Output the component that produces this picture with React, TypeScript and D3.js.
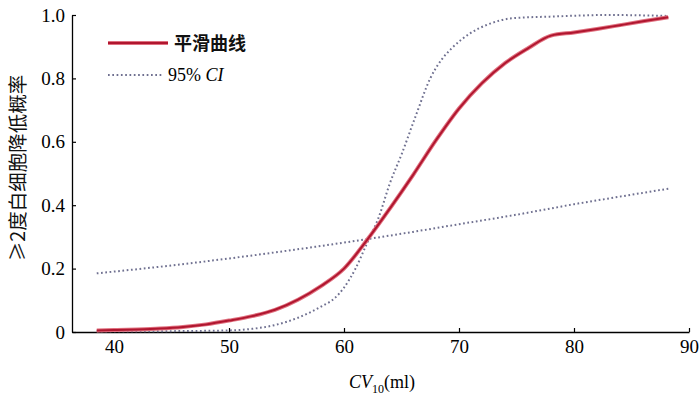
import { useEffect, useRef } from "react";
import * as d3 from "d3";

// smoothed curve (x = CV10 ml, y = probability)
const smoothX = [38.5, 40, 42, 44, 46, 48, 50, 52, 54, 56, 58, 60, 62, 64, 66, 68, 70, 72, 74, 76, 78, 80, 82, 84, 86, 88.2];
const smoothY = [0.005, 0.006, 0.008, 0.011, 0.016, 0.024, 0.036, 0.05, 0.07, 0.102, 0.145, 0.2, 0.29, 0.39, 0.495, 0.605, 0.705, 0.785, 0.848, 0.895, 0.935, 0.945, 0.956, 0.968, 0.98, 0.993];

// upper 95% CI
const upperX = [38.5, 42, 46, 50, 52, 54, 56, 58, 59.2, 60, 61, 62, 63, 64, 65, 66.2, 67.5, 68.5, 69.4, 71, 72.5, 74.7, 78, 83, 88.2];
const upperY = [0.002, 0.002, 0.003, 0.005, 0.01, 0.022, 0.045, 0.08, 0.107, 0.14, 0.2, 0.28, 0.36, 0.47, 0.56, 0.678, 0.8, 0.86, 0.896, 0.943, 0.97, 0.99, 0.995, 1.0, 0.997];

// lower 95% CI
const lowerX = [38.5, 45, 50, 55, 60, 65, 70, 75, 80, 85, 88.2];
const lowerY = [0.185, 0.21, 0.232, 0.256, 0.282, 0.31, 0.34, 0.37, 0.403, 0.433, 0.452];

const xTicks = [40, 50, 60, 70, 80, 90];
const yTicks = [0, 0.2, 0.4, 0.6, 0.8, 1.0];

const W = 700;
const H = 395;
const SERIF = "'Liberation Serif', 'Times New Roman', serif";
const CJK = "'Noto Sans CJK SC', sans-serif";

export default function App() {
  const svgRef = useRef<SVGSVGElement>(null);

  useEffect(() => {
    if (!svgRef.current) return;
    const svg = d3.select(svgRef.current);
    svg.selectAll("*").remove();

    const x = d3.scaleLinear().domain([40, 90]).range([114, 689]);
    const y = d3.scaleLinear().domain([0, 1]).range([332, 15]);
    const x0 = x.invert(72);

    const line = d3
      .line<[number, number]>()
      .x((d) => x(d[0]))
      .y((d) => y(d[1]))
      .curve(d3.curveMonotoneX);

    const zip = (a: number[], b: number[]) => a.map((v, i) => [v, b[i]] as [number, number]);

    // axes
    const xAxis = svg
      .append("g")
      .attr("transform", `translate(0,${y(0)})`)
      .call(
        d3
          .axisBottom(d3.scaleLinear().domain([x0, 90]).range([72, 689]))
          .tickValues(xTicks)
          .tickSizeInner(-4)
          .tickSizeOuter(0)
          .tickPadding(8)
          .tickFormat((d) => String(d))
      );
    xAxis.select(".domain").attr("stroke", "#000").attr("stroke-width", 1.3);
    xAxis.selectAll(".tick line").attr("stroke", "#000").attr("stroke-width", 1.2);
    xAxis
      .selectAll("text")
      .attr("font-family", SERIF)
      .attr("font-size", 19)
      .attr("fill", "#000");

    const yAxis = svg
      .append("g")
      .attr("transform", `translate(72,0)`)
      .call(
        d3
          .axisLeft(y)
          .tickValues(yTicks)
          .tickSizeInner(-4)
          .tickSizeOuter(0)
          .tickPadding(7)
          .tickFormat((d) => ((d as number) === 0 ? "0" : d3.format(".1f")(d as number)))
      );
    yAxis.select(".domain").attr("stroke", "#000").attr("stroke-width", 1.3);
    yAxis.selectAll(".tick line").attr("stroke", "#000").attr("stroke-width", 1.2);
    yAxis
      .selectAll("text")
      .attr("font-family", SERIF)
      .attr("font-size", 19)
      .attr("fill", "#000");

    // CI lines
    [zip(upperX, upperY), zip(lowerX, lowerY)].forEach((pts) => {
      svg
        .append("path")
        .attr("d", line(pts))
        .attr("fill", "none")
        .attr("stroke", "#6f7090")
        .attr("stroke-width", 2)
        .attr("stroke-dasharray", "1.7 2.6");
    });

    // smoothed curve
    svg
      .append("path")
      .attr("d", line(zip(smoothX, smoothY)))
      .attr("fill", "none")
      .attr("stroke", "#e0707f")
      .attr("stroke-width", 4);
    svg
      .append("path")
      .attr("d", line(zip(smoothX, smoothY)))
      .attr("fill", "none")
      .attr("stroke", "#b0162f")
      .attr("stroke-width", 2);

    // legend
    const lg = svg.append("g");
    lg.append("line")
      .attr("x1", 108).attr("x2", 168).attr("y1", 43).attr("y2", 43)
      .attr("stroke", "#e0707f").attr("stroke-width", 4);
    lg.append("line")
      .attr("x1", 108).attr("x2", 168).attr("y1", 43).attr("y2", 43)
      .attr("stroke", "#b0162f").attr("stroke-width", 2);
    lg.append("text")
      .attr("x", 174).attr("y", 50)
      .attr("font-family", CJK).attr("font-size", 18).attr("font-weight", 700)
      .attr("fill", "#111")
      .text("平滑曲线");
    lg.append("line")
      .attr("x1", 108).attr("x2", 162).attr("y1", 75).attr("y2", 75)
      .attr("stroke", "#6f7090").attr("stroke-width", 2)
      .attr("stroke-dasharray", "1.7 2.6");
    const ci = lg.append("text")
      .attr("x", 168).attr("y", 81)
      .attr("font-family", SERIF).attr("font-size", 18).attr("fill", "#000");
    ci.append("tspan").text("95% ");
    ci.append("tspan").attr("font-style", "italic").text("CI");

    // y label
    svg
      .append("text")
      .attr("transform", `translate(25,168) rotate(-90)`)
      .attr("text-anchor", "middle")
      .attr("font-family", CJK)
      .attr("font-size", 19.5)
      .attr("fill", "#111")
      .text("≥2度白细胞降低概率");

    // x label
    const xl = svg
      .append("text")
      .attr("x", 382)
      .attr("y", 388)
      .attr("text-anchor", "middle")
      .attr("font-family", SERIF)
      .attr("font-size", 18)
      .attr("fill", "#000");
    xl.append("tspan").attr("font-style", "italic").text("CV");
    xl.append("tspan").attr("font-size", 12).attr("dy", 5).text("10");
    xl.append("tspan").attr("dy", -5).text("(ml)");
  }, []);

  return (
    <svg
      ref={svgRef}
      width={W}
      height={H}
      style={{ position: "absolute", left: 0, top: 0, background: "#fff" }}
    />
  );
}
